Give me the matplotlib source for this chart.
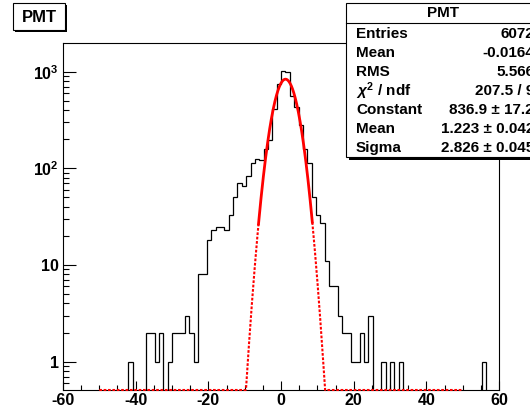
import numpy as np
import matplotlib
matplotlib.use("Agg")
import matplotlib.pyplot as plt
from matplotlib.patches import Rectangle
from matplotlib.ticker import MultipleLocator, LogLocator, NullFormatter

plt.rcParams['font.family'] = ['Liberation Sans', 'DejaVu Sans']
plt.rcParams['font.weight'] = 'bold'
plt.rcParams['mathtext.fontset'] = 'custom'
plt.rcParams['mathtext.rm'] = 'Liberation Sans'
plt.rcParams['mathtext.it'] = 'Liberation Sans:italic'
plt.rcParams['mathtext.bf'] = 'Liberation Sans:bold'
plt.rcParams['axes.unicode_minus'] = False

# histogram: 100 bins from -60 to 60
edges = np.linspace(-60, 60, 101)
counts = [
    0, 0, 0, 0, 0, 0, 0, 0, 0, 0,
    0, 0, 0, 0, 0, 1, 0, 0, 0, 2,
    2, 1, 2, 0, 1, 2, 2, 2, 3, 2,
    1, 8, 8, 18, 23, 25, 25, 23, 33, 51,
    70, 65, 83, 114, 124, 122, 157, 196, 407, 745,
    1014, 984, 559, 433, 281, 157, 113, 51, 33, 27,
    11, 6, 6, 3, 2, 2, 1, 1, 2, 1,
    3, 0, 0, 1, 0, 1, 0, 1, 0, 0,
    0, 0, 0, 0, 0, 0, 0, 0, 0, 0,
    0, 0, 0, 0, 0, 0, 1, 0, 0, 0,
]

# gaussian fit parameters (from stats box)
g_const, g_mean, g_sigma = 836.9, 1.223, 2.826
fit_lo, fit_hi = -6.2, 8.6
func_lo, func_hi = -50, 50

xticks = [-60, -40, -20, 0, 20, 40, 60]
yticks = [1, 10, 100, 1000]
ylabels = ['1', '10', r'$\mathbf{10^{2}}$', r'$\mathbf{10^{3}}$']

stat_names = ['Entries', 'Mean', 'RMS', r'$\chi^{2}$ / ndf', 'Constant', 'Mean', 'Sigma']
stat_vals = ['6072', '-0.0164', '5.566', '207.5 / 9',
             '836.9 ± 17.2', '1.223 ± 0.042', '2.826 ± 0.045']

W, H = 530, 411
ymin, ymax = 0.509, 1958

fig = plt.figure(figsize=(W / 100, H / 100), dpi=100)
ax = fig.add_axes([62.9 / W, 1 - 390 / H, (499.2 - 62.9) / W, (390 - 43.5) / H])
ax.set_yscale('log')
ax.set_xlim(-60, 60)
ax.set_ylim(ymin, ymax)

h = np.maximum(np.array(counts, dtype=float), 1e-3)
ax.stairs(h, edges, baseline=1e-3, color='black', lw=0.9)


def gaus(x):
    return g_const * np.exp(-0.5 * ((x - g_mean) / g_sigma) ** 2)


xs_l = np.linspace(func_lo, fit_lo, 400)
xs_r = np.linspace(fit_hi, func_hi, 400)
for xs in (xs_l, xs_r):
    ax.plot(xs, np.maximum(gaus(xs), ymin), color='red', lw=1.5,
            ls=(0, (1.3, 0.8)), clip_on=False, zorder=3)
xs_m = np.linspace(fit_lo, fit_hi, 300)
ax.plot(xs_m, gaus(xs_m), color='red', lw=2, zorder=4)

for s in ax.spines.values():
    s.set_linewidth(0.8)
    s.set_color('black')

ax.set_xticks(xticks, [str(v) for v in xticks])
ax.xaxis.set_minor_locator(MultipleLocator(5))
ax.set_yticks(yticks, ylabels)
ax.yaxis.set_minor_locator(LogLocator(base=10, subs=np.arange(2, 10)))
ax.yaxis.set_minor_formatter(NullFormatter())
ax.tick_params(axis='both', which='both', direction='in', top=False, right=False,
               width=0.8, labelsize=11.5)
ax.tick_params(axis='x', which='major', length=6.7, pad=2)
ax.tick_params(axis='x', which='minor', length=3.4)
ax.tick_params(axis='y', which='major', length=9.1, pad=3)
ax.tick_params(axis='y', which='minor', length=4.3)
for lab in ax.get_xticklabels() + ax.get_yticklabels():
    lab.set_fontweight('bold')


def fx(px):
    return px / W


def fy(py):
    return 1 - py / H


def box(x0, y0, x1, y1, sh):
    fig.patches.append(Rectangle((fx(x0 + sh), fy(y1 + sh)), fx(x1 - x0), (y1 - y0) / H,
                                 transform=fig.transFigure, facecolor='black',
                                 edgecolor='none', zorder=10))
    fig.patches.append(Rectangle((fx(x0), fy(y1)), fx(x1 - x0), (y1 - y0) / H,
                                 transform=fig.transFigure, facecolor='white',
                                 edgecolor='black', lw=0.8, zorder=11))


# title box
box(12.7, 3.3, 65, 30, 2)
fig.text(fx(39), fy(17), 'PMT', ha='center', va='center', fontsize=12,
         fontweight='bold', zorder=12)

# stats box
box(346, 2.7, 545, 157, 3)
fig.lines.append(plt.Line2D([fx(346), fx(545)], [fy(22.7), fy(22.7)],
                            transform=fig.transFigure, color='black', lw=0.8, zorder=12))
fig.text(fx(443), fy(13), 'PMT', ha='center', va='center', fontsize=11,
         fontweight='bold', zorder=12)
for i, (n, v) in enumerate(zip(stat_names, stat_vals)):
    yy = 33.5 + 19.07 * i
    fig.text(fx(356), fy(yy), n, ha='left', va='center', fontsize=11,
             fontweight='bold', zorder=12)
    fig.text(fx(534), fy(yy), v, ha='right', va='center', fontsize=11,
             fontweight='bold', zorder=12)

fig.savefig('out.png', dpi=100)
